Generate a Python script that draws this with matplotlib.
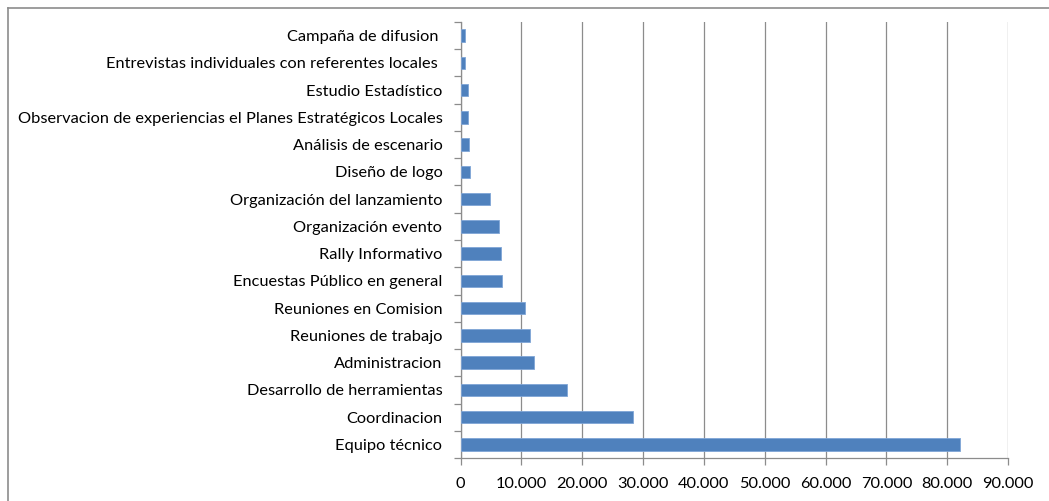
import matplotlib
matplotlib.use("Agg")
import matplotlib.pyplot as plt
from matplotlib.ticker import FixedLocator, FuncFormatter
from matplotlib.lines import Line2D
import numpy as np

categories = [
    "Equipo técnico",
    "Coordinacion",
    "Desarrollo de herramientas",
    "Administracion",
    "Reuniones de trabajo",
    "Reuniones en Comision",
    "Encuestas Público en general",
    "Rally Informativo",
    "Organización evento",
    "Organización del lanzamiento",
    "Diseño de logo",
    "Análisis de escenario",
    "Observacion de experiencias el Planes Estratégicos Locales",
    "Estudio Estadístico",
    "Entrevistas individuales con referentes locales ",
    "Campaña de difusion ",
]
values = [82050, 28400, 17480, 12050, 11400, 10630, 6850, 6690, 6300, 4920,
          1490, 1330, 1270, 1160, 680, 720]
xticks = list(range(0, 90001, 10000))

plt.rcParams['font.family'] = ['Lato', 'DejaVu Sans']

fig = plt.figure(figsize=(10.49, 5.01), dpi=100)
ax = fig.add_axes([460.5/1049, 1-458/501, (1008-460.5)/1049, (458-22)/501])

y = np.arange(len(categories))
ax.barh(y, values, height=0.45, color="#4F81BD", edgecolor="#7FA5D6", linewidth=0.6, zorder=3)

ax.set_xlim(0, 90000)
ax.set_ylim(-0.5, len(categories) - 0.5)
ax.set_xticks(xticks)
ax.xaxis.set_major_formatter(FuncFormatter(lambda v, p: f"{int(v):,}".replace(",", ".")))
ax.set_yticks(y)
ax.set_yticklabels(categories)
ax.yaxis.set_minor_locator(FixedLocator(np.arange(-0.5, len(categories), 1)))

ax.grid(axis="x", color="#8C8C8C", linewidth=0.9, zorder=0)
for s in ["top", "right"]:
    ax.spines[s].set_visible(False)
for s in ["left", "bottom"]:
    ax.spines[s].set_color("#8C8C8C")
    ax.spines[s].set_linewidth(0.9)

ax.tick_params(axis="y", which="major", length=0, pad=13, labelsize=11.75, labelcolor="black")
ax.tick_params(axis="y", which="minor", length=5, color="#8C8C8C", width=0.9, direction="out")
ax.tick_params(axis="x", which="major", length=5, color="#8C8C8C", width=0.9, direction="out",
               pad=9, labelsize=11.75, labelcolor="black")

# outer chart-area frame (only top and left edges are visible in the reference)
fig.add_artist(Line2D([7.5/1049, 7.5/1049], [0, 1 - 7.5/501], transform=fig.transFigure,
                      color="#8C8C8C", linewidth=1.2))
fig.add_artist(Line2D([7.5/1049, 1], [1 - 7.5/501, 1 - 7.5/501], transform=fig.transFigure,
                      color="#8C8C8C", linewidth=1.2))

fig.savefig("out.png", dpi=100)
